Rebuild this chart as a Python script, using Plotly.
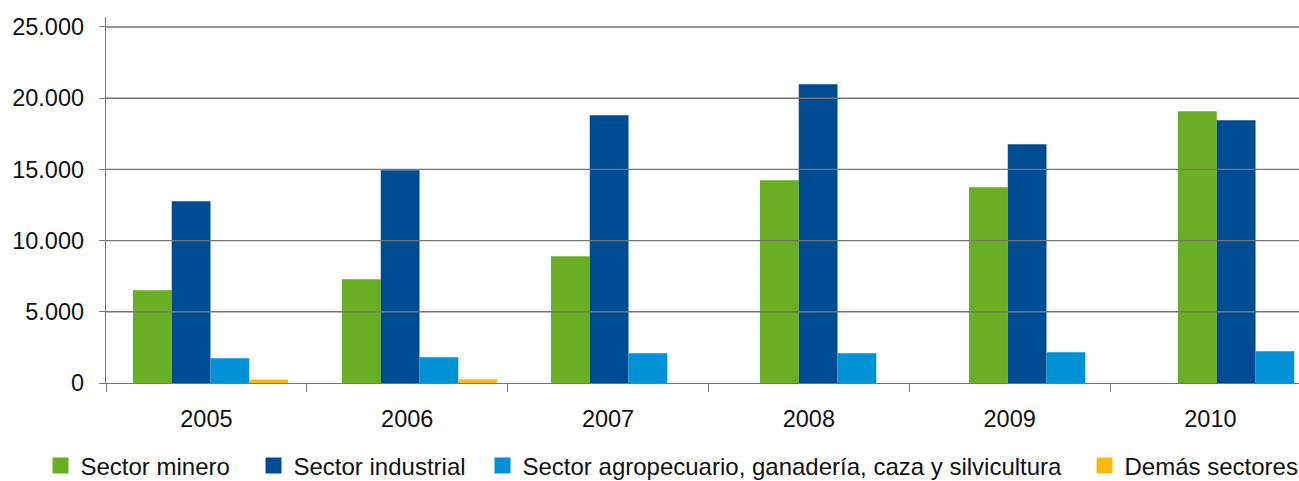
import plotly.graph_objects as go

years = ["2005", "2006", "2007", "2008", "2009", "2010"]
series_names = [
    "Sector minero",
    "Sector industrial",
    "Sector agropecuario, ganadería, caza y silvicultura",
    "Demás sectores",
]
minero = [6510, 7280, 8900, 14230, 13740, 19080]
industrial = [12760, 14940, 18800, 20980, 16760, 18450]
agropecuario = [1730, 1800, 2090, 2090, 2160, 2230]
demas = [250, 260, 0, 0, 0, 0]
colors = ["#6AAF23", "#004C93", "#0092D6", "#FDB913"]
ytick_vals = [0, 5000, 10000, 15000, 20000, 25000]

FONT = "Liberation Sans, Arial, sans-serif"
GRID = "#767676"
W, H = 1299, 481
legend_left_px = [40.5, 253.5, 482.5, 1084.5]
legend_names = ["legend", "legend2", "legend3", "legend4"]

fig = go.Figure()
for name, vals, col in zip(series_names, [minero, industrial, agropecuario, demas], colors):
    fig.add_trace(go.Bar(x=years, y=vals, name=name, marker=dict(color=col, line=dict(width=0)),
                         xaxis="x", yaxis="y", showlegend=False))
# legend entries
for name, col, lg in zip(series_names, colors, legend_names):
    fig.add_trace(go.Scatter(x=[None], y=[None], mode="markers", name=name, legend=lg,
                             marker=dict(symbol="square", size=19, color=col),
                             xaxis="x2", yaxis="y"))

for v in ytick_vals[1:]:
    fig.add_shape(type="line", xref="paper", yref="y", x0=0, x1=1, y0=v, y1=v,
                  line=dict(color=GRID, width=1.4), layer="above")

legend_common = dict(orientation="h", xref="container", yref="container",
                     xanchor="left", yanchor="middle", font=dict(size=24),
                     bgcolor="rgba(0,0,0,0)", itemwidth=30, borderwidth=0)
layout_legends = {}
for lg, px in zip(legend_names, legend_left_px):
    layout_legends[lg] = dict(legend_common, x=px / W, y=1 - 466 / H)

fig.update_layout(
    width=W, height=H,
    margin=dict(l=106, r=0, t=17, b=98, autoexpand=False),
    paper_bgcolor="white", plot_bgcolor="white",
    separators=",.",
    barmode="group", bargap=0.258, bargroupgap=0,
    font=dict(family=FONT, size=23.5, color="#111111"),
    xaxis=dict(type="category", range=[-0.5, 5.208], visible=False, fixedrange=True),
    xaxis2=dict(overlaying="x", anchor="y", side="bottom", range=[-0.5, 5.441],
                tickmode="array", tickvals=list(range(len(years))), ticktext=years,
                ticks="", showgrid=False, zeroline=False,
                showline=True, linecolor=GRID, linewidth=1.4,
                minor=dict(ticks="outside", tick0=-0.5, dtick=1, ticklen=8,
                           tickcolor=GRID, tickwidth=1.4, showgrid=False),
                ticklabelstandoff=15, tickfont=dict(size=23.5)),
    yaxis=dict(range=[0, 25700], tickmode="array", tickvals=ytick_vals, tickformat=",",
               showgrid=False, zeroline=False, showline=True, linecolor=GRID, linewidth=1.4,
               ticks="outside", ticklen=6, tickcolor=GRID, tickwidth=1.4,
               ticklabelstandoff=10, tickfont=dict(size=23.5)),
    **layout_legends,
)

fig.write_html("out.html",
               config={"displayModeBar": False},
               post_script="document.body.style.margin='0';document.body.style.overflow='hidden';")
